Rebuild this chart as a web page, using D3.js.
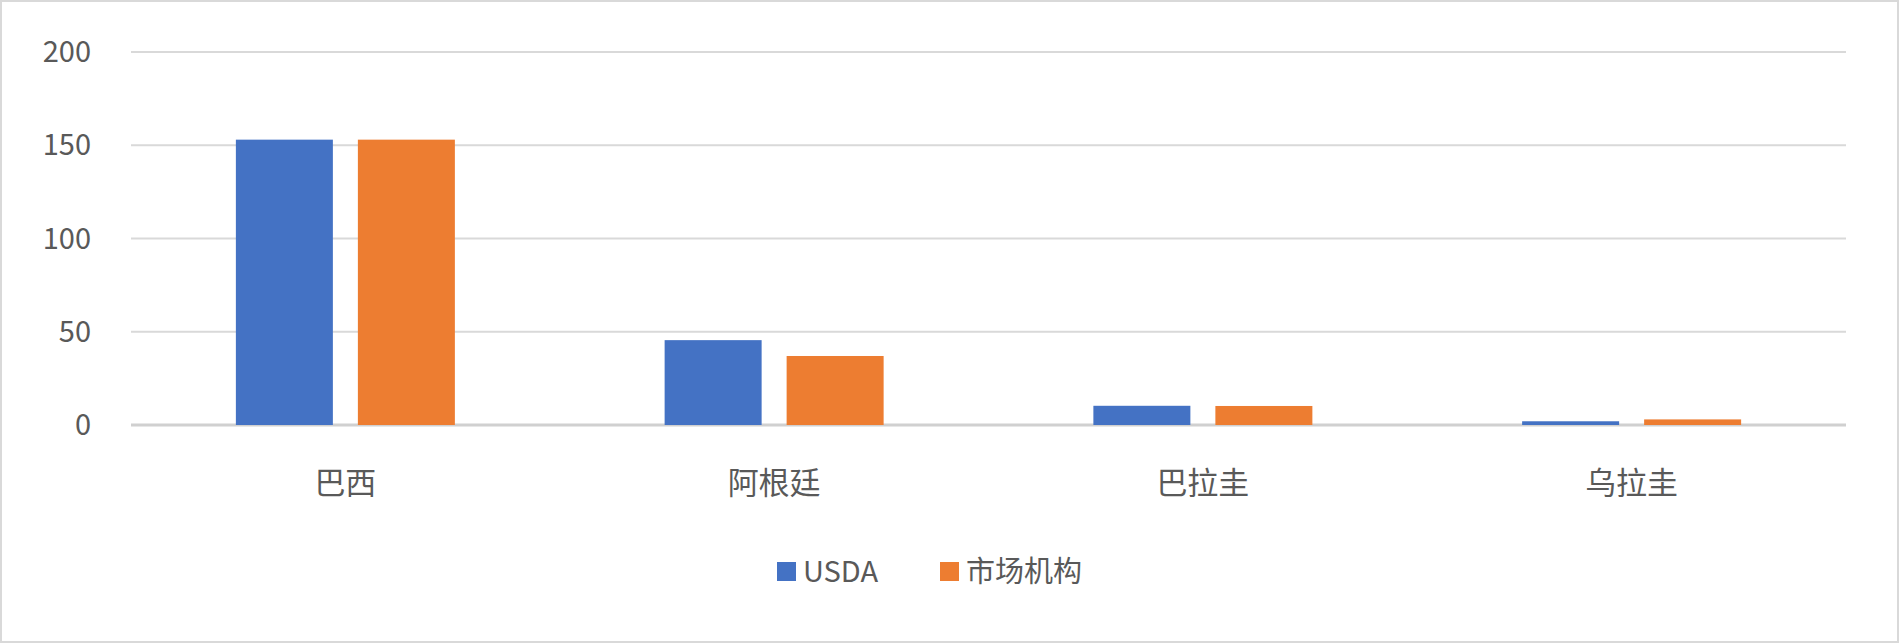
<!DOCTYPE html><html><head><meta charset="utf-8"><script src="https://cdn.jsdelivr.net/npm/d3@7"></script>
<style>body{margin:0;background:#fff}</style></head><body><svg id="c" width="1899" height="643"></svg><script>
const categories=["巴西","阿根廷","巴拉圭","乌拉圭"];
const usda=[153,45.5,10.3,2];
const market=[153,37,10.2,3];
const seriesNames=["USDA","市场机构"];
const colors=["#4472C4","#ED7D31"];
const ticks=[0,50,100,150,200];
const svg=d3.select("#c"),F="'Noto Sans CJK SC','Noto Sans',sans-serif";
svg.append("rect").attr("x",1).attr("y",1).attr("width",1897).attr("height",641).attr("fill","#fff").attr("stroke","#d9d9d9").attr("stroke-width",2);
const L=131,R=1846,T=52,B=425;
const y=d3.scaleLinear().domain([0,200]).range([B,T]);
const x=d3.scaleBand().domain(categories).range([L,R]);
ticks.forEach(t=>{svg.append("line").attr("x1",L).attr("x2",R).attr("y1",y(t)).attr("y2",y(t)).attr("stroke",t===0?"#d0d0d0":"#d9d9d9").attr("stroke-width",t===0?3:2);
svg.append("text").attr("x",91).attr("y",y(t)).attr("dy","0.35em").attr("text-anchor","end").attr("font-family",F).attr("font-size",29).attr("fill","#595959").text(t);});
const bw=97,gap=25;
[usda,market].forEach((s,i)=>{svg.selectAll(null).data(s).enter().append("rect")
.attr("x",(d,j)=>x(categories[j])+x.bandwidth()/2-(bw+gap/2)+i*(bw+gap)).attr("width",bw)
.attr("y",d=>y(d)).attr("height",d=>B-y(d)).attr("fill",colors[i]);});
categories.forEach(c=>svg.append("text").attr("x",x(c)+x.bandwidth()/2).attr("y",494).attr("text-anchor","middle").attr("font-family",F).attr("font-size",31).attr("fill","#595959").text(c));
const lg=[[777,seriesNames[0]],[940,seriesNames[1]]];
lg.forEach(([lx,t],i)=>{svg.append("rect").attr("x",lx).attr("y",562).attr("width",19).attr("height",19).attr("fill",colors[i]);
svg.append("text").attr("x",lx+26).attr("y",572).attr("dy","0.35em").attr("font-family",F).attr("font-size",29).attr("fill","#595959").text(t);});
</script></body></html>
